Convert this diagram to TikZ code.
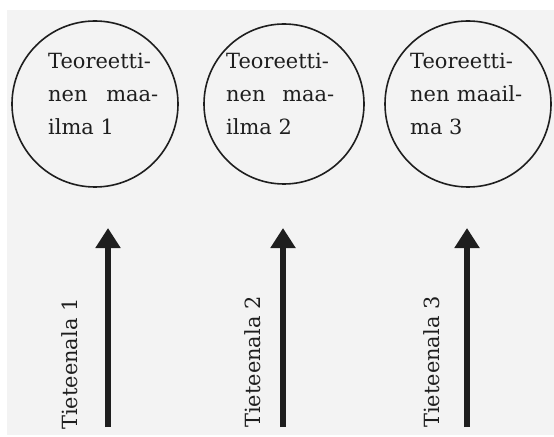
\documentclass[tikz,border=0pt]{standalone}
\usepackage{fontspec}
\setmainfont{DejaVu Serif}
\usetikzlibrary{arrows.meta}
\definecolor{paper}{RGB}{243,243,243}
\definecolor{ink}{RGB}{30,30,30}
\tikzset{
  world/.style={circle, draw=ink, line width=1.6bp, inner sep=0pt},
  worldtext/.style={anchor=north west, inner sep=0pt, align=left, text=ink,
    font=\fontsize{21}{33}\selectfont},
  fieldlabel/.style={rotate=90, anchor=base west, inner sep=0pt, text=ink,
    font=\fontsize{21}{28}\selectfont},
  fieldarrow/.style={draw=ink, line width=5.5bp,
    -{Triangle[width=24bp,length=20bp]}}
}
\begin{document}
\begin{tikzpicture}[x=1bp,y=-1bp]
  % page and grey sheet
  \useasboundingbox (0,0) rectangle (554,437);
  \fill[white] (0,0) rectangle (554,437);
  \fill[paper] (7,10) rectangle (554,435);

  % the three theoretical worlds
  \node[world, minimum size=166bp] (c1) at (95,104) {};
  \node[world, minimum size=160bp] (c2) at (284,104) {};
  \node[world, minimum size=166bp] (c3) at (468,104) {};

  \node[worldtext] (t1) at (48,53)
    {Teoreetti-\\\makebox[110bp][s]{nen maa-}\\ilma 1};
  \node[worldtext] (t2) at (226,53)
    {Teoreetti-\\\makebox[108bp][s]{nen maa-}\\ilma 2};
  \node[worldtext] (t3) at (410,53)
    {Teoreetti-\\\makebox[112bp][s]{nen maail-}\\ma 3};

  % disciplines pointing up to their worlds
  \coordinate (a1s) at (108,427);
  \coordinate (a1e) at (108,228);
  \coordinate (a2s) at (283,427);
  \coordinate (a2e) at (283,228);
  \coordinate (a3s) at (467,427);
  \coordinate (a3e) at (467,228);
  \draw[fieldarrow] (a1s) -- (a1e);
  \draw[fieldarrow] (a2s) -- (a2e);
  \draw[fieldarrow] (a3s) -- (a3e);

  \node[fieldlabel] (l1) at (77,430) {Tieteenala 1};
  \node[fieldlabel] (l2) at (260,428) {Tieteenala 2};
  \node[fieldlabel] (l3) at (439,428) {Tieteenala 3};
\end{tikzpicture}
\end{document}
